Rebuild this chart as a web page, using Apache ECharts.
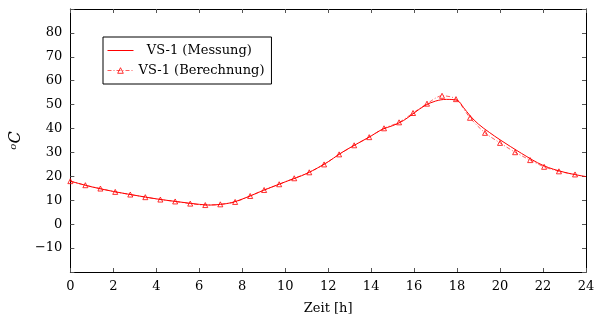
<!DOCTYPE html>
<html><head><meta charset="utf-8">
<script src="https://cdn.jsdelivr.net/npm/echarts@6/dist/echarts.min.js"></script>
<style>html,body{margin:0;padding:0;background:#fff}#c{width:607px;height:322px}</style>
</head><body><div id="c"></div>
<script>
// Measured (Messung)
const measX = [0,1,2,3,4,5,6,6.5,7,7.5,8,8.5,9,10,11,12,12.5,13,13.5,14,14.5,15,15.5,16,16.5,17,17.5,18,18.3,18.6,19,19.5,20,21,22,23,24];
const measY = [18.0,15.6,13.7,12.1,10.6,9.4,8.3,8.0,8.3,9.0,10.5,12.3,14.2,17.7,21.2,26.1,29.2,31.9,34.4,36.9,39.6,41.2,43.3,46.5,49.6,51.5,52.2,51.8,48.8,45.4,41.8,38.4,35.3,29.6,24.6,21.7,19.9];
// Calculated (Berechnung)
const calcX = [0,0.70,1.40,2.09,2.79,3.49,4.19,4.88,5.58,6.28,6.98,7.67,8.37,9.02,9.72,10.42,11.12,11.81,12.51,13.21,13.91,14.60,15.30,15.95,16.60,17.30,17.95,18.60,19.30,20.00,20.70,21.40,22.05,22.74,23.49];
const calcY = [18.0,16.3,14.9,13.5,12.4,11.3,10.3,9.5,8.6,8.0,8.3,9.3,11.8,14.3,16.7,19.2,21.7,25.0,29.2,33.0,36.4,40.1,42.6,46.5,50.4,53.7,52.3,44.5,38.2,34.0,30.1,26.8,24.0,22.1,20.8];
const xTicks = [0,2,4,6,8,10,12,14,16,18,20,22,24];
const yTicks = [-10,0,10,20,30,40,50,60,70,80];

const pair = (xs, ys) => xs.map((x, i) => [x, ys[i]]);
const font = 'DejaVu Serif';
const fmtNum = v => (v < 0 ? '\u2212' + Math.abs(v) : String(v));

const chart = echarts.init(document.getElementById('c'), null, {renderer: 'canvas'});
chart.setOption({
  animation: false,
  backgroundColor: '#fff',
  grid: {left: 70, right: 21, top: 9, bottom: 50},
  legend: {
    orient: 'vertical', left: 103, top: 37,
    borderColor: '#000', borderWidth: 1, padding: [7, 7, 7, 4],
    itemGap: 7, itemWidth: 26, itemHeight: 7,
    textStyle: {fontFamily: font, fontSize: 13, color: '#000'},
    data: [
      {name: 'VS-1 (Messung)', itemStyle: {opacity: 0}, lineStyle: {color: '#ff0000', width: 1, opacity: 1}},
      {name: 'VS-1 (Berechnung)', itemStyle: {color: 'rgba(0,0,0,0)', borderColor: '#ff0000', borderWidth: 0.8}, lineStyle: {color: '#ff0000', width: 0.8, type: [4, 2, 1, 2]}}
    ],
    formatter: n => n === 'VS-1 (Messung)' ? '  ' + n : n
  },
  xAxis: [{
    type: 'value', min: 0, max: 24, interval: 2,
    name: 'Zeit [h]', nameLocation: 'middle', nameGap: 30,
    nameTextStyle: {fontFamily: font, fontSize: 13, color: '#000'},
    axisLine: {show: true, onZero: false, lineStyle: {color: '#000', width: 1}},
    axisTick: {show: true, inside: true, length: 4, lineStyle: {color: '#555'}},
    axisLabel: {fontFamily: font, fontSize: 13, color: '#000', margin: 8, customValues: xTicks},
    splitLine: {show: false}
  }, {
    type: 'value', min: 0, max: 24, interval: 2, position: 'top',
    axisLine: {show: true, onZero: false, lineStyle: {color: '#000', width: 1}},
    axisTick: {show: true, inside: true, length: 4, lineStyle: {color: '#555'}},
    axisLabel: {show: false}, splitLine: {show: false}
  }],
  yAxis: [{
    type: 'value', min: -20, max: 90, interval: 10,
    name: '{o|o}{c|C}', nameLocation: 'middle', nameGap: 42, nameRotate: 90,
    nameTextStyle: {
      fontFamily: font, color: '#000',
      rich: {
        o: {fontFamily: font, fontSize: 10, fontStyle: 'italic', verticalAlign: 'top', padding: [0, 0, 6, 0]},
        c: {fontFamily: font, fontSize: 16, fontStyle: 'italic'}
      }
    },
    axisLine: {show: true, onZero: false, lineStyle: {color: '#000', width: 1}},
    axisTick: {show: true, inside: true, length: 4, lineStyle: {color: '#555'}},
    axisLabel: {
      fontFamily: font, fontSize: 13, color: '#000', margin: 8,
      customValues: yTicks, formatter: v => fmtNum(v)
    },
    splitLine: {show: false}
  }, {
    type: 'value', min: -20, max: 90, interval: 10, position: 'right',
    axisLine: {show: true, onZero: false, lineStyle: {color: '#000', width: 1}},
    axisTick: {show: true, inside: true, length: 4, lineStyle: {color: '#555'}},
    axisLabel: {show: false}, splitLine: {show: false}
  }],
  series: [{
    name: 'VS-1 (Messung)', type: 'line', smooth: 0.35,
    data: pair(measX, measY), symbol: 'none',
    color: '#ff0000',
    lineStyle: {color: '#ff0000', width: 1}
  }, {
    name: 'VS-1 (Berechnung)', type: 'line', smooth: 0.3,
    data: pair(calcX, calcY),
    symbol: 'triangle', symbolSize: 5,
    color: '#ff0000',
    itemStyle: {color: 'rgba(0,0,0,0)', borderColor: '#ff0000', borderWidth: 0.8},
    lineStyle: {color: '#ff0000', width: 0.8, type: [4, 2, 1, 2], opacity: 0.8}
  }]
});
</script></body></html>
